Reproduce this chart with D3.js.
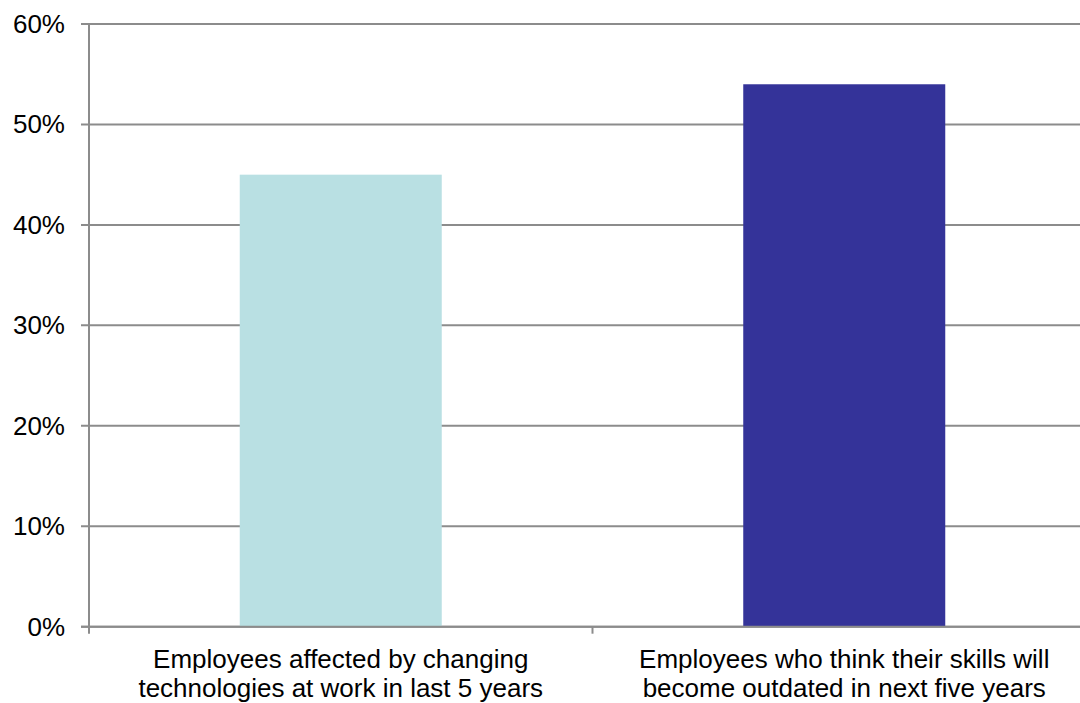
<!DOCTYPE html>
<html><head><meta charset="utf-8">
<script src="https://cdn.jsdelivr.net/npm/d3@7"></script>
<style>body{margin:0;background:#fff;}svg{display:block;}</style>
</head><body>
<script>
const categories = [
  ["Employees affected by changing", "technologies at work in last 5 years"],
  ["Employees who think their skills will", "become outdated in next five years"]
];
const values = [45, 54];
const colors = ["#B9E0E3", "#343399"];
const yTicks = [0, 10, 20, 30, 40, 50, 60];

const W = 1080, H = 703;
const m = {left: 89, right: -16, top: 24, bottom: 76};
const svg = d3.select("body").append("svg").attr("width", W).attr("height", H);
const x = d3.scaleBand().domain(d3.range(values.length)).range([m.left, W - m.right]).paddingInner(0).paddingOuter(0);
const y = d3.scaleLinear().domain([0, 60]).range([H - m.bottom - 0.3, m.top]);

const grid = "#8c8c8c";
const font = "Liberation Sans, Arial, sans-serif";
// gridlines
svg.append("g").selectAll("line").data(yTicks).join("line")
  .attr("x1", m.left - 8).attr("x2", W)
  .attr("y1", d => y(d)).attr("y2", d => y(d))
  .attr("stroke", grid).attr("stroke-width", 2);
// y labels
svg.append("g").selectAll("text").data(yTicks).join("text")
  .attr("x", 65).attr("y", d => y(d) + 9)
  .attr("text-anchor", "end")
  .attr("font-family", font).attr("font-size", 26)
  .attr("fill", "#000").text(d => d + "%");
// bars
const bw = 202;
svg.append("g").selectAll("rect").data(values).join("rect")
  .attr("x", (d, i) => x(i) + x.bandwidth() / 2 - bw / 2)
  .attr("width", bw)
  .attr("y", d => y(d)).attr("height", d => y(0) - y(d))
  .attr("fill", (d, i) => colors[i]);
// baseline redraw
svg.append("line").attr("x1", m.left - 8).attr("x2", W).attr("y1", y(0)).attr("y2", y(0))
  .attr("stroke", grid).attr("stroke-width", 2);
// y axis line
svg.append("line").attr("x1", m.left).attr("x2", m.left).attr("y1", m.top).attr("y2", y(0) + 7)
  .attr("stroke", grid).attr("stroke-width", 2);
// x ticks between categories
svg.append("g").selectAll("line").data(d3.range(1, values.length)).join("line")
  .attr("x1", d => x(d)).attr("x2", d => x(d))
  .attr("y1", y(0)).attr("y2", y(0) + 7)
  .attr("stroke", grid).attr("stroke-width", 2);
// category labels
const cl = svg.append("g").selectAll("text").data(categories).join("text")
  .attr("text-anchor", "middle")
  .attr("font-family", font).attr("font-size", 26)
  .attr("fill", "#000");
cl.each(function(d, i) {
  const t = d3.select(this);
  d.forEach((line, j) => {
    t.append("tspan").attr("x", x(i) + x.bandwidth() / 2).attr("y", 668 + j * 29).text(line);
  });
});
</script>
</body></html>
